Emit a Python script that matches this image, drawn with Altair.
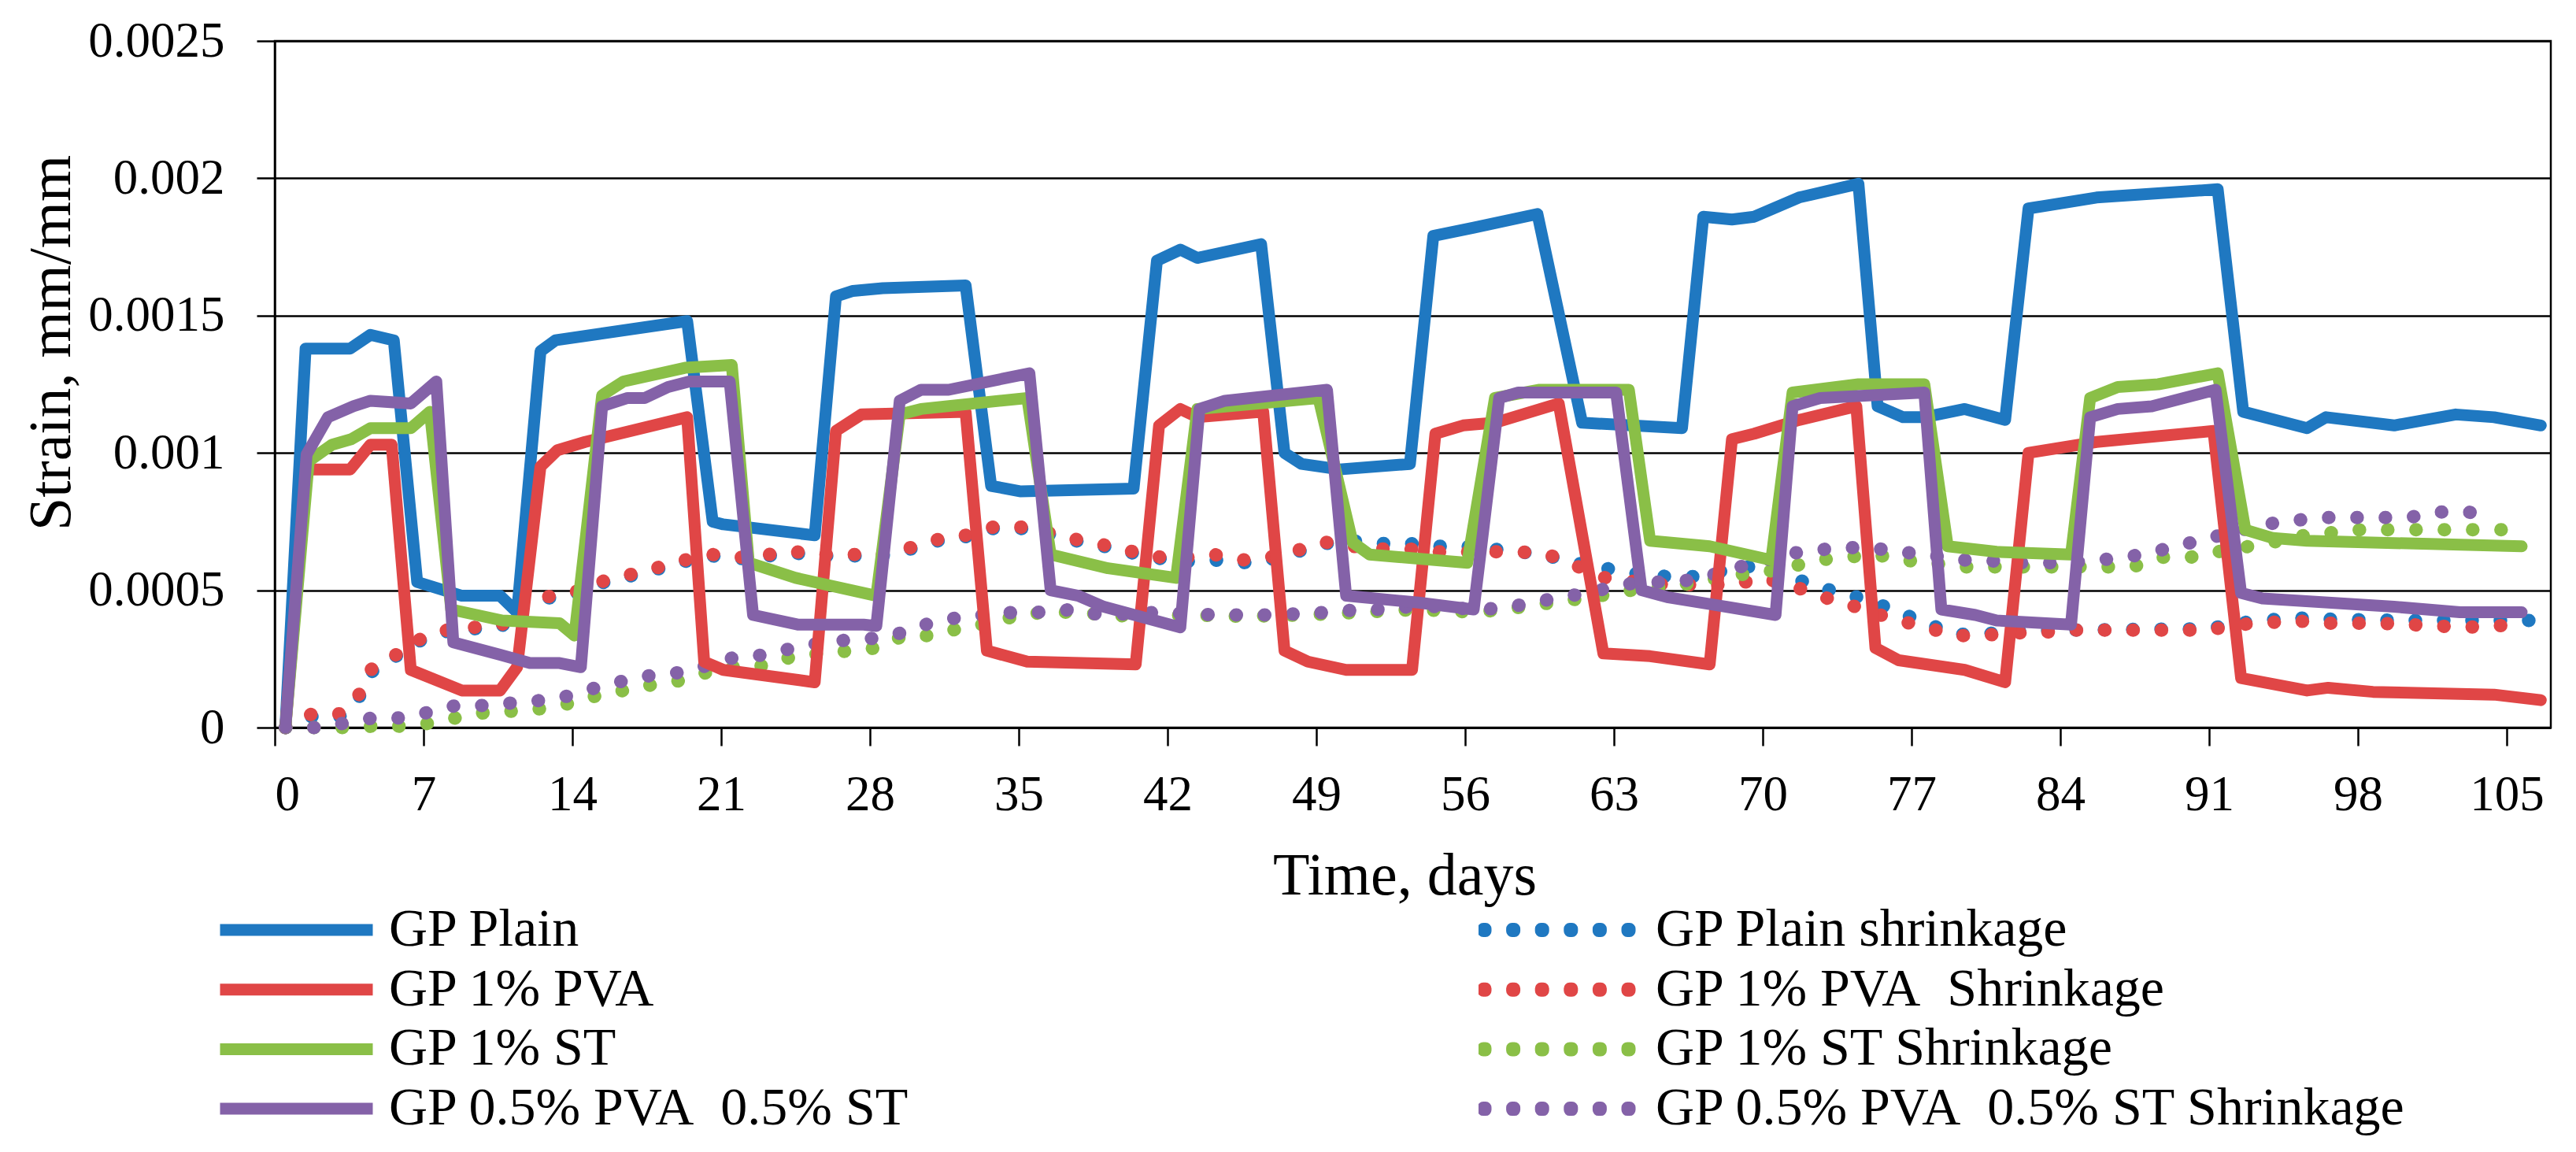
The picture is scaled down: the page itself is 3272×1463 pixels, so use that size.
import altair as alt
import pandas as pd

# (day, strain) pairs
plain = [(0.5, 0), (1.45, 0.00138), (3.55, 0.00138), (4.5, 0.00143), (5.6, 0.00141),
         (6.7, 0.00053), (8.8, 0.00048), (10.6, 0.00048), (11.4, 0.00042), (12.5, 0.00137),
         (13.2, 0.00141), (19.4, 0.00148), (20.6, 0.00075), (21.1, 0.00074), (25.4, 0.0007),
         (26.4, 0.00157), (27.2, 0.00159), (28.6, 0.0016), (32.5, 0.00161), (33.7, 0.00088),
         (35.1, 0.00086), (40.4, 0.00087), (41.5, 0.0017), (42.6, 0.00174), (43.4, 0.00171),
         (46.4, 0.00176), (47.5, 0.001), (48.3, 0.00096), (50.1, 0.00094), (53.4, 0.00096),
         (54.5, 0.00179), (56.4, 0.00182), (59.4, 0.00187), (61.5, 0.00111), (66.2, 0.00109),
         (67.2, 0.00186), (68.55, 0.00185), (69.6, 0.00186), (71.7, 0.00193), (74.5, 0.00198),
         (75.4, 0.00117), (76.6, 0.00113), (77.6, 0.00113), (79.5, 0.00116), (81.4, 0.00112),
         (82.5, 0.00189), (85.7, 0.00193), (91.4, 0.00196), (92.6, 0.00115), (95.6, 0.00109),
         (96.5, 0.00113), (99.7, 0.0011), (102.6, 0.00114), (104.4, 0.00113), (106.6, 0.0011)]

pva = [(0.5, 0), (1.5, 0.00094), (3.55, 0.00094), (4.5, 0.00103), (5.5, 0.00103),
       (6.4, 0.00021), (8.8, 0.000135), (10.6, 0.000135), (11.4, 0.00022), (12.5, 0.00095),
       (13.3, 0.00101), (14.6, 0.00104), (19.4, 0.00113), (20.2, 0.00024), (21.1, 0.00021),
       (25.4, 0.000165), (26.4, 0.00108), (27.6, 0.00114), (32.5, 0.00115), (33.5, 0.00028),
       (35.4, 0.00024), (40.5, 0.00023), (41.6, 0.0011), (42.6, 0.00116), (43.4, 0.00113),
       (46.5, 0.00115), (47.5, 0.00028), (48.6, 0.00024), (50.4, 0.00021), (53.5, 0.00021),
       (54.6, 0.00107), (55.9, 0.0011), (57.4, 0.00111), (60.4, 0.00118), (62.5, 0.00027),
       (64.7, 0.00026), (67.5, 0.00023), (68.55, 0.00105), (69.6, 0.00107), (71.7, 0.00112),
       (74.4, 0.00117), (75.3, 0.00029), (76.4, 0.000245), (79.5, 0.00021), (81.4, 0.000165),
       (82.5, 0.001), (85.7, 0.00104), (91.2, 0.00108), (92.5, 0.00018), (95.6, 0.000135),
       (96.6, 0.000145), (98.7, 0.00013), (104.4, 0.00012), (106.6, 0.0001)]

st = [(0.5, 0), (1.6, 0.00097), (2.7, 0.00103), (3.6, 0.00105), (4.5, 0.00109),
      (6.4, 0.00109), (7.3, 0.00115), (8.3, 0.00043), (10.7, 0.00039), (13.4, 0.00038),
      (14.1, 0.000335), (15.4, 0.00121), (16.4, 0.00126), (19.3, 0.00131), (21.5, 0.00132),
      (22.3, 0.0006), (24.5, 0.000545), (28.3, 0.00048), (29.4, 0.00114), (30.4, 0.00116),
      (35.4, 0.0012), (36.5, 0.00063), (39.2, 0.00058), (42.4, 0.000545), (43.4, 0.00116),
      (49.1, 0.0012), (50.7, 0.000675), (51.5, 0.00063), (56.1, 0.0006), (57.4, 0.0012),
      (59.5, 0.00123), (63.7, 0.00123), (64.7, 0.00068), (67.5, 0.00066), (70.4, 0.00061),
      (71.4, 0.00122), (74.5, 0.00125), (77.6, 0.00125), (78.7, 0.00066), (81.0, 0.00064),
      (84.5, 0.00063), (85.4, 0.0012), (86.7, 0.00124), (88.6, 0.00125), (91.4, 0.00129),
      (92.7, 0.00072), (94.0, 0.00069), (95.6, 0.00068), (105.7, 0.00066)]

mix = [(0.5, 0), (1.5, 0.000995), (2.5, 0.00113), (3.7, 0.00117), (4.5, 0.00119),
       (6.4, 0.00118), (7.6, 0.00126), (8.4, 0.00031), (10.6, 0.000265), (12.0, 0.000235),
       (13.4, 0.000235), (14.4, 0.00022), (15.4, 0.00117), (16.6, 0.0012), (17.4, 0.0012),
       (18.5, 0.00124), (19.5, 0.00126), (21.4, 0.00126), (22.5, 0.00041), (24.6, 0.000375),
       (27.7, 0.000375), (28.3, 0.00037), (29.4, 0.00119), (30.4, 0.00123), (31.7, 0.00123),
       (35.5, 0.00129), (36.5, 0.0005), (37.8, 0.00048), (39.0, 0.00044), (42.6, 0.000365),
       (43.5, 0.00116), (44.7, 0.00119), (49.5, 0.00123), (50.4, 0.00048), (53.8, 0.000455),
       (56.4, 0.00043), (57.6, 0.0012), (58.5, 0.00122), (63.1, 0.00122), (64.3, 0.0005),
       (65.5, 0.000475), (67.5, 0.00045), (70.6, 0.00041), (71.4, 0.00117), (72.7, 0.0012),
       (77.6, 0.00122), (78.4, 0.00043), (80.0, 0.00041), (81.0, 0.00039), (84.5, 0.000375),
       (85.4, 0.00113), (86.7, 0.00116), (88.3, 0.00117), (91.3, 0.00123), (92.5, 0.00049),
       (93.5, 0.00047), (99.7, 0.00044), (102.8, 0.00042), (105.7, 0.00042)]

plain_shr = [(0.5, 0), (1.75, 0.00004), (3.05, 0.00004), (3.9, 0.0001), (4.5, 0.0002),
             (5.6, 0.000255), (6.8, 0.000315), (8.1, 0.00035), (9.4, 0.00036), (10.7, 0.00037),
             (11.6, 0.00045), (12.7, 0.00047), (14.0, 0.000485), (15.3, 0.000525), (16.6, 0.00055),
             (17.9, 0.000575), (19.3, 0.000605), (20.6, 0.000625), (21.9, 0.000615), (23.2, 0.000625),
             (24.5, 0.000635), (25.8, 0.000625), (28.5, 0.000625), (29.9, 0.00065), (31.2, 0.00068),
             (32.5, 0.000695), (33.8, 0.000725), (35.1, 0.000725), (36.4, 0.000705), (37.7, 0.00068),
             (39.0, 0.00066), (40.4, 0.000635), (41.7, 0.000615), (43.0, 0.000605), (44.2, 0.00061),
             (45.5, 0.0006), (46.8, 0.00061), (48.1, 0.00064), (49.4, 0.00067), (50.7, 0.00068),
             (52.0, 0.00067), (53.4, 0.00067), (54.7, 0.00066), (56.0, 0.00066), (57.3, 0.00065),
             (58.6, 0.00064), (59.9, 0.000625), (61.2, 0.0006), (62.6, 0.00058), (64.1, 0.00056),
             (65.5, 0.00055), (66.9, 0.00055), (68.7, 0.00058), (69.9, 0.00059), (71.3, 0.00055),
             (72.6, 0.00051), (73.8, 0.00049), (75.1, 0.00046), (76.4, 0.00042), (77.7, 0.00038),
             (79.0, 0.00034), (80.3, 0.00034), (81.7, 0.00035), (84.3, 0.000355), (91.0, 0.00036),
             (92.3, 0.00038), (93.6, 0.00039), (94.9, 0.0004), (96.4, 0.000395), (100.4, 0.00039),
             (103.0, 0.00039), (106.1, 0.00039)]

pva_shr = [(0.5, 0), (1.75, 0.00005), (3.05, 0.00005), (3.9, 0.00011), (4.5, 0.00021),
           (5.6, 0.00026), (6.8, 0.00032), (8.1, 0.000355), (9.4, 0.000365), (10.7, 0.000375),
           (11.6, 0.000455), (12.7, 0.000475), (14.0, 0.00049), (15.3, 0.00053), (16.6, 0.000555),
           (17.9, 0.00058), (19.3, 0.00061), (20.6, 0.00063), (21.9, 0.00062), (23.2, 0.00063),
           (24.5, 0.00064), (25.8, 0.00063), (28.5, 0.00063), (29.9, 0.000655), (31.2, 0.000685),
           (32.5, 0.0007), (33.8, 0.00073), (35.1, 0.00073), (36.4, 0.00071), (37.7, 0.000685),
           (39.0, 0.000665), (40.4, 0.00064), (41.7, 0.00062), (43.0, 0.00062), (44.2, 0.00063),
           (45.5, 0.00061), (46.8, 0.00062), (48.1, 0.000645), (49.4, 0.000675), (50.7, 0.00066),
           (52.0, 0.00065), (53.4, 0.00065), (54.7, 0.00064), (57.3, 0.00064), (58.6, 0.00064),
           (59.9, 0.00063), (61.2, 0.00059), (62.6, 0.000545), (64.1, 0.00053), (65.5, 0.00052),
           (68.7, 0.00052), (69.9, 0.000545), (71.3, 0.00052), (72.6, 0.00048), (73.8, 0.000455),
           (75.1, 0.00042), (76.4, 0.00039), (77.7, 0.000365), (79.0, 0.000335), (80.3, 0.000335),
           (81.7, 0.000345), (83.0, 0.000345), (84.3, 0.000355), (91.0, 0.000355), (92.3, 0.000375),
           (93.6, 0.00038), (94.9, 0.00039), (96.4, 0.00038), (99.0, 0.00038), (100.4, 0.000375),
           (103.0, 0.000365), (105.7, 0.000375)]

st_shr = [(0.5, 0), (1.9, 0), (3.2, 0), (4.6, 0.000005), (5.9, 0.000005), (7.2, 0.000015),
          (8.5, 0.000035), (9.9, 0.000055), (11.2, 0.00006), (12.7, 0.00007), (14.0, 0.00009),
          (15.1, 0.000115), (16.4, 0.000135), (17.7, 0.000155), (19.0, 0.00017), (20.3, 0.0002),
          (21.8, 0.000225), (23.1, 0.000225), (24.4, 0.00026), (25.8, 0.00027), (27.1, 0.00028),
          (28.3, 0.00029), (29.6, 0.000335), (30.9, 0.000335), (32.4, 0.000365), (33.7, 0.00038),
          (35.0, 0.00041), (36.3, 0.00042), (37.5, 0.00042), (40.3, 0.000405), (42.9, 0.00041),
          (45.6, 0.000405), (48.4, 0.00041), (51.1, 0.00042), (53.8, 0.00043), (56.5, 0.00042),
          (57.8, 0.00043), (59.2, 0.000445), (60.5, 0.00046), (62.0, 0.000475), (63.4, 0.000495),
          (64.6, 0.00051), (65.9, 0.000515), (67.2, 0.000535), (68.7, 0.000555), (70.0, 0.000565),
          (71.3, 0.000585), (72.6, 0.00061), (73.9, 0.00062), (75.3, 0.00063), (76.6, 0.00061),
          (77.9, 0.0006), (79.3, 0.000585), (87.4, 0.000585), (88.7, 0.00062), (90.1, 0.00062),
          (91.4, 0.00064), (94.0, 0.000675), (95.5, 0.0007), (96.8, 0.00071), (98.1, 0.00072),
          (104.9, 0.00072)]

mix_shr = [(0.5, 0), (1.9, 0), (3.2, 0.000015), (4.6, 0.000035), (5.9, 0.000035), (7.2, 0.000055),
           (8.5, 0.00008), (9.9, 0.00008), (11.2, 0.00009), (12.7, 0.0001), (13.8, 0.000115),
           (15.1, 0.000145), (16.4, 0.00017), (17.7, 0.00019), (19.0, 0.0002), (20.3, 0.000225),
           (21.6, 0.000255), (23.1, 0.000265), (24.4, 0.00029), (25.8, 0.00031), (27.1, 0.00032),
           (28.2, 0.000325), (29.5, 0.000345), (30.8, 0.00038), (32.1, 0.0004), (33.4, 0.00041),
           (34.8, 0.00042), (36.1, 0.00042), (37.5, 0.00043), (38.9, 0.00041), (41.6, 0.00042),
           (44.3, 0.00041), (47.0, 0.00041), (49.6, 0.00042), (51.1, 0.00043), (52.4, 0.00043),
           (53.8, 0.000445), (56.5, 0.00043), (57.8, 0.000435), (59.2, 0.000455), (60.5, 0.000475),
           (61.8, 0.00049), (63.3, 0.00052), (64.6, 0.00053), (65.9, 0.00053), (67.2, 0.000545),
           (68.4, 0.000575), (69.7, 0.0006), (71.0, 0.00063), (72.3, 0.000645), (73.8, 0.000655),
           (75.1, 0.000655), (76.4, 0.00064), (77.8, 0.00063), (79.1, 0.00061), (80.4, 0.00061),
           (81.7, 0.0006), (84.4, 0.0006), (85.8, 0.00061), (87.1, 0.00062), (88.4, 0.00064),
           (89.7, 0.000665), (91.0, 0.00069), (93.6, 0.00074), (95.1, 0.000755), (96.4, 0.000765),
           (100.4, 0.000765), (101.8, 0.000785), (103.1, 0.000785), (104.4, 0.000775)]

NB = "\u00a0"  # keeps the double spaces of the original labels
solid = [("GP Plain", plain), ("GP 1% PVA", pva), ("GP 1% ST", st),
         ("GP 0.5% PVA" + NB + " 0.5% ST", mix)]
dotted = [("GP Plain shrinkage", plain_shr), ("GP 1% PVA" + NB + " Shrinkage", pva_shr),
          ("GP 1% ST Shrinkage", st_shr),
          ("GP 0.5% PVA" + NB + " 0.5% ST Shrinkage", mix_shr)]
colors = ["#1f78c1", "#e04646", "#8abf47", "#8462a8"]

rows = []
for kind, group in (("solid", solid), ("dotted", dotted)):
    for name, pts in group:
        for d, v in pts:
            rows.append({"series": name, "kind": kind, "day": d, "strain": v})
df = pd.DataFrame(rows)

FONT = "Liberation Serif"


def dot(cx, h=0.0164):
    # tiny closed square; the wide stroke turns it into a dot
    return f"M{cx - h:.4f},{-h:.4f}h{2 * h:.4f}v{2 * h:.4f}h{-2 * h:.4f}z"


dots_symbol = "".join(dot(c) for c in (-1, -0.6, -0.2, 0.2, 0.6, 1))

legend_common = dict(
    title=None, orient="none", legendY=1097, rowPadding=7.7, clipHeight=64, padding=0,
    symbolStrokeWidth=15, symbolDash=[1, 0], labelFont=FONT, labelFontSize=68,
    labelColor="black", labelLimit=3000,
)
left_legend = alt.Legend(legendX=-77, symbolType="stroke", symbolSize=194 ** 2,
                         labelOffset=13, **legend_common)
right_legend = alt.Legend(legendX=1529, symbolType=dots_symbol, symbolSize=183 ** 2,
                          labelOffset=27, **legend_common)

x = alt.X("day:Q", scale=alt.Scale(domain=[0, 107.07], nice=False),
          axis=alt.Axis(values=list(range(0, 106, 7)), grid=False, title="Time, days",
                        labelPadding=31, titleX=1435, titleY=211,
                        titleBaseline="alphabetic", titleAlign="center"))
y = alt.Y("strain:Q", scale=alt.Scale(domain=[0, 0.0025], nice=False),
          axis=alt.Axis(values=[0, 0.0005, 0.001, 0.0015, 0.002, 0.0025], format="~g",
                        grid=True, title="Strain, mm/mm", labelPadding=41,
                        titleAngle=270, titleX=-261, titleY=383,
                        titleBaseline="alphabetic", titleAlign="center"))

solid_layer = alt.Chart(df).transform_filter(alt.datum.kind == "solid").mark_line(
    strokeWidth=15
).encode(
    x=x, y=y,
    color=alt.Color("series:N", scale=alt.Scale(domain=[s[0] for s in solid], range=colors),
                    legend=left_legend),
)
dotted_layer = alt.Chart(df).transform_filter(alt.datum.kind == "dotted").mark_line(
    strokeWidth=17, strokeDash=[0.5, 35.5]
).encode(
    x=x, y=y,
    stroke=alt.Stroke("series:N", scale=alt.Scale(domain=[s[0] for s in dotted], range=colors),
                      legend=right_legend),
)

# shrinkage dots sit underneath the solid curves, as in the original
chart = alt.layer(dotted_layer, solid_layer).properties(
    width=2891, height=872,
    padding={"left": 341, "top": 44, "right": 24, "bottom": 531},
    autosize=alt.AutoSizeParams(type="none"),
).configure_line(
    strokeWidth=15, strokeCap="round", strokeJoin="round"
).configure_view(
    stroke="black", strokeWidth=2.5
).configure_axis(
    domainColor="black", domainWidth=2.5, tickColor="black", tickWidth=2.5, tickSize=23,
    gridColor="black", gridWidth=2.5, labelFont=FONT, labelFontSize=63, labelColor="black",
    titleFont=FONT, titleFontSize=76, titleFontWeight="normal", titleColor="black",
)

chart.save("out.html", embed_options={"renderer": "svg", "actions": False})
